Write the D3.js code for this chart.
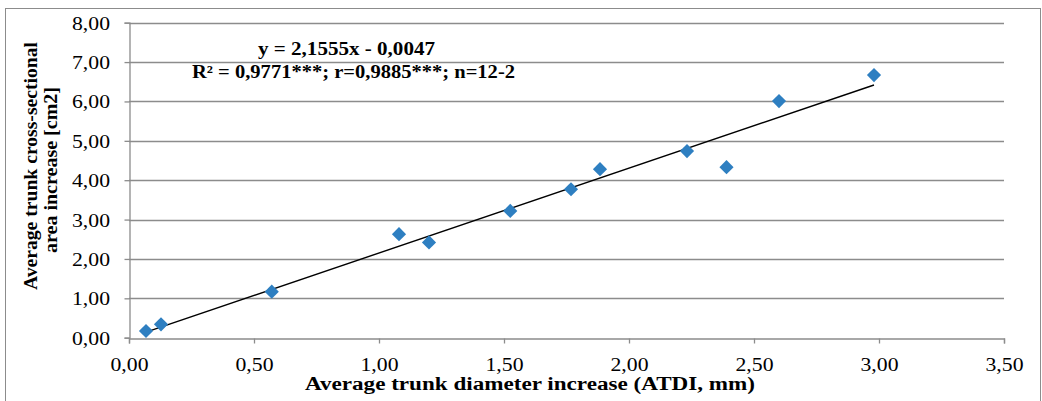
<!DOCTYPE html>
<html><head><meta charset="utf-8">
<script src="https://cdn.jsdelivr.net/npm/d3@7"></script>
<style>body{margin:0;background:#fff}svg{display:block}text{font-family:"Liberation Serif","Times New Roman",serif}</style>
</head><body>
<svg id="c" width="1042" height="401"></svg>
<script>
const xValues = [0.068, 0.128, 0.571, 1.08, 1.20, 1.525, 1.768, 1.884, 2.232, 2.39, 2.60, 2.98];
const yValues = [0.17, 0.34, 1.17, 2.63, 2.42, 3.22, 3.77, 4.28, 4.74, 4.33, 6.01, 6.67];
const slope = 2.1555, intercept = -0.0047;
const xTicks = [0, 0.5, 1, 1.5, 2, 2.5, 3, 3.5];
const yTicks = [0, 1, 2, 3, 4, 5, 6, 7, 8];
const eqLine1 = "y = 2,1555x - 0,0047";
const eqLine2 = "R² = 0,9771***; r=0,9885***; n=12-2";
const xTitle = "Average trunk diameter increase (ATDI, mm)";
const yTitle1 = "Average trunk cross-sectional";
const yTitle2 = "area increase [cm2]";

const svg = d3.select("#c");
const font = '"Liberation Serif","Times New Roman",serif';
const grid = "#8c8c8c";
const L = 129, R = 1004, T = 22.7, B = 337.7;
const x = d3.scaleLinear().domain([0, 3.5]).range([L, R]);
const y = d3.scaleLinear().domain([0, 8]).range([B, T]);
const fmt = d => d.toFixed(2).replace(".", ",");

svg.append("rect").attr("x", 5.5).attr("y", 8.5).attr("width", 1035).attr("height", 400)
  .attr("fill", "none").attr("stroke", "#8c8c8c").attr("stroke-width", 1);

// gridlines
svg.append("g").selectAll("line").data(yTicks.filter(d => d > 0)).join("line")
  .attr("x1", L).attr("x2", R).attr("y1", d => Math.round(y(d)) + 0.5).attr("y2", d => Math.round(y(d)) + 0.5)
  .attr("stroke", grid).attr("stroke-width", 1.3);

// x axis
const xa = svg.append("g").attr("transform", `translate(0,${Math.round(B) + 0.5})`)
  .call(d3.axisBottom(x).tickValues(xTicks).tickFormat(fmt).tickSize(5));
// y axis
const ya = svg.append("g").attr("transform", `translate(${L + 0.5},0)`)
  .call(d3.axisLeft(y).tickValues(yTicks).tickFormat(fmt).tickSize(5));
[xa, ya].forEach(a => {
  a.attr("font-family", null);
  a.select(".domain").attr("stroke", grid).attr("stroke-width", 1.3);
  a.selectAll(".tick line").attr("stroke", grid).attr("stroke-width", 1.3);
  a.selectAll(".tick text").style("font-family", font).attr("font-size", 19).attr("fill", "#000")
    .attr("textLength", 38).attr("lengthAdjust", "spacingAndGlyphs");
});
xa.selectAll(".tick text").attr("y", 32).attr("dy", 0);
ya.selectAll(".tick text").attr("x", -19.5).attr("dy", "0.34em");

// trend line
const x0 = d3.min(xValues), x1 = d3.max(xValues);
svg.append("line").attr("x1", x(x0)).attr("y1", y(slope * x0 + intercept))
  .attr("x2", x(x1)).attr("y2", y(slope * x1 + intercept))
  .attr("stroke", "#000").attr("stroke-width", 1.4);

// points
const pts = xValues.map((v, i) => [v, yValues[i]]);
svg.append("g").selectAll("path").data(pts).join("path")
  .attr("d", d3.symbol().type(d3.symbolDiamond2).size(128))
  .attr("transform", d => `translate(${x(d[0])},${y(d[1])})`)
  .attr("fill", "#2e7fc1");

function label(parent, tx, ty, str, len) {
  return parent.append("text").attr("x", tx).attr("y", ty).attr("text-anchor", "middle")
    .style("font-family", font).attr("font-size", 18).attr("font-weight", "bold")
    .attr("textLength", len).attr("lengthAdjust", "spacingAndGlyphs").text(str);
}
// equation
label(svg, 346.5, 55, eqLine1, 177);
label(svg, 353.5, 78, eqLine2, 323);

// axis titles
label(svg, 530, 390, xTitle, 450);
const yt = svg.append("g").attr("transform", "translate(0,166) rotate(-90)");
label(yt, 0, 37, yTitle1, 248);
label(yt, -4, 57, yTitle2, 166);
</script>
</body></html>
